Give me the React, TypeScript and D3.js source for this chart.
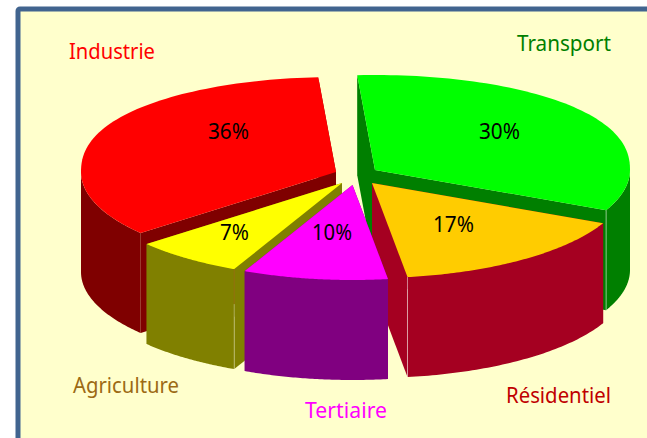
import React from "react";
import * as d3 from "d3";

const categories = ["Industrie", "Transport", "Résidentiel", "Tertiaire", "Agriculture"];
const percents = [36, 30, 17, 10, 7];
// Sector limits as seen in the picture (degrees, clockwise from the top)
const startDegrees = [230, -4, 115, 172, 205];
const endDegrees = [356, 115, 172, 205, 230];
const topColors = ["#ff0000", "#00ff00", "#ffcc00", "#ff00ff", "#ffff00"];
const wallColors = ["#7f0000", "#007f00", "#a50021", "#800080", "#808000"];
const nameColors = ["#ff0000", "#007f00", "#c00000", "#ff00ff", "#9c6a14"];
const apexX = [336, 375, 372, 352.5, 342];
const apexY = [172, 170, 183, 185, 183];

const W = 647, H = 438, RX = 255, RY = 95, DEPTH = 100, SHOULDER = 0.88;
const FONT = "'Noto Sans', Carlito, Calibri, sans-serif";
const drawOrder = [0, 1, 2, 4, 3];
const namePos: [number, number, number][] = [[69, 58.5, 86], [517, 50.5, 94], [506, 402.5, 105], [305, 418, 82], [73, 393, 106]];
const pctPos: [number, number, number][] = [[208, 138.5, 41], [479, 138.5, 41], [433, 231.5, 41], [312, 239.5, 40], [220, 239.5, 29]];

const rad = d3.scaleLinear().domain([0, 180]).range([0, Math.PI]);

// Rim of the tilted disc; the far half is slightly fuller than a true ellipse
function rim(i: number, deg: number): [number, number] {
  const a = rad(deg);
  const c = Math.cos(a);
  const cy = c > 0 ? Math.pow(c, SHOULDER) : c;
  return [apexX[i] + RX * Math.sin(a), apexY[i] - RY * cy];
}

const pieces = drawOrder.map((i) => {
  const s = startDegrees[i], e = endDegrees[i];
  const poly = d3.line();
  const rimPts = d3.range(s, e + 0.001, (e - s) / 80).map((d) => rim(i, d));
  const top = poly([[apexX[i], apexY[i]], ...rimPts]) + "Z";
  const wallFor = (deg: number) => {
    const [x, y] = rim(i, deg);
    return poly([[apexX[i], apexY[i]], [x, y], [x, y + DEPTH], [apexX[i], apexY[i] + DEPTH]]) as string;
  };
  // outer wall: only the part on the viewer's side of the ellipse
  const a0 = Math.max(s, 90), a1 = Math.min(e, 270);
  const pts = d3.range(a0, a1 + 0.001, (a1 - a0) / 60).map((d) => rim(i, d));
  const outer = poly([...pts, ...pts.slice().reverse().map(([x, y]) => [x, y + DEPTH] as [number, number])]) as string;
  return { i, top, startWall: wallFor(s), endWall: wallFor(e), outer, sEdge: rim(i, s), eEdge: rim(i, e) };
});

export default function App() {
  return (
    <svg width={W} height={H} style={{ position: "absolute", left: 0, top: 0, background: "#fff" }}>
      <rect x={18} y={9} width={W + 20} height={H + 20} rx={2} fill="#ffffcc" stroke="#41648f" strokeWidth={5} />
      {pieces.map((p) => (
        <g key={p.i}>
          <path d={p.startWall} fill={wallColors[p.i]} />
          <path d={p.endWall} fill={wallColors[p.i]} />
          <path d={p.outer} fill={wallColors[p.i]} />
          {(p.i === 1 || p.i === 2) && (
            <line x1={p.eEdge[0]} y1={p.eEdge[1]} x2={p.eEdge[0]} y2={p.eEdge[1] + DEPTH} stroke="#ffffff" strokeOpacity={0.5} />
          )}
          {p.i === 4 && (
            <>
              <line x1={p.sEdge[0]} y1={p.sEdge[1]} x2={p.sEdge[0]} y2={p.sEdge[1] + DEPTH * 0.35} stroke="#9c6a14" strokeOpacity={0.7} />
              <line x1={p.sEdge[0]} y1={p.sEdge[1] + DEPTH * 0.35} x2={p.sEdge[0]} y2={p.sEdge[1] + DEPTH} stroke="#ffffff" strokeOpacity={0.35} />
            </>
          )}
          <path d={p.top} fill={topColors[p.i]} />
        </g>
      ))}
      {categories.map((c, i) => (
        <text key={c} x={namePos[i][0]} y={namePos[i][1]} textLength={namePos[i][2]} lengthAdjust="spacingAndGlyphs"
          fontFamily={FONT} fontSize={21} fill={nameColors[i]}>{c}</text>
      ))}
      {percents.map((v, i) => (
        <text key={i} x={pctPos[i][0]} y={pctPos[i][1]} textLength={pctPos[i][2]} lengthAdjust="spacingAndGlyphs"
          fontFamily={FONT} fontSize={21} fill="#000">{`${v}%`}</text>
      ))}
    </svg>
  );
}
